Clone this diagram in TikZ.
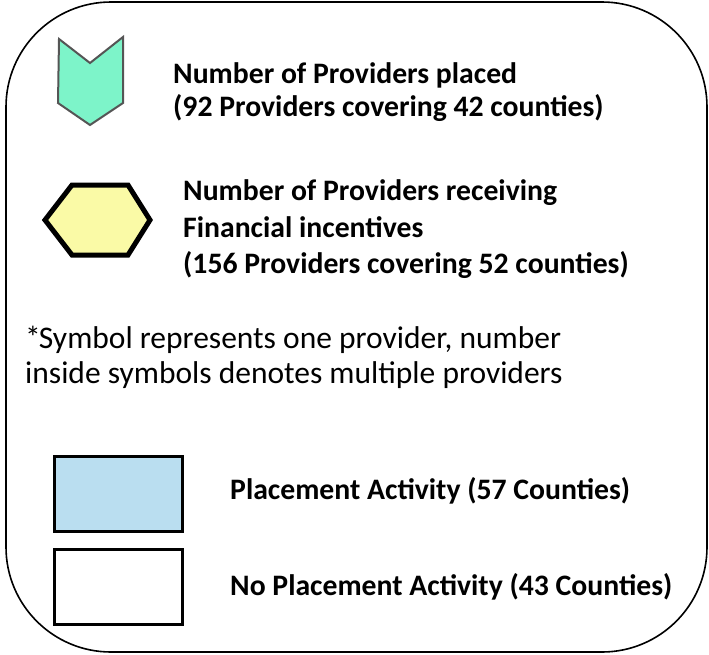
\documentclass[tikz,border=0pt]{standalone}
\usepackage{fontspec}
\setmainfont{Carlito}
\definecolor{chev}{HTML}{7DF4C9}
\definecolor{hexf}{HTML}{FAFAA6}
\definecolor{bluef}{HTML}{BADEF0}
\definecolor{chevline}{HTML}{555555}
\begin{document}
\begin{tikzpicture}[x=1pt,y=-1pt,
  lbl/.style={anchor=base west,inner sep=0pt,font=\fontsize{29.7}{33}\selectfont\bfseries},
  note/.style={anchor=base west,inner sep=0pt,font=\fontsize{31.5}{35}\selectfont},
  keybox/.style={draw=black,line width=2.5pt,minimum width=128pt,minimum height=75pt,inner sep=0pt,anchor=north west}]
\useasboundingbox (0,0) rectangle (709,654);
\draw[line width=1.6pt,rounded corners=105pt] (6,2) rectangle (707,652);
% chevron
\draw[chevline,fill=chev,line width=2pt,line join=miter] (59,39) -- (90,63) -- (123,37) -- (123,103) -- (90,125) -- (58,103) -- cycle;
% hexagon
\draw[black,fill=hexf,line width=5pt,line join=miter] (45,220) -- (72,185) -- (128,185) -- (150,220) -- (128,255) -- (72,255) -- cycle;
% boxes
\node[keybox,fill=bluef] (b1) at (53,455) {};
\node[keybox,fill=white] (b2) at (53,548) {};
% texts
\node[lbl] (t1a) at (173,83) {Number of Providers placed};
\node[lbl] (t1b) at (173,116) {(92 Providers covering 42 counties)};
\node[lbl] (t2a) at (183,200) {Number of Providers receiving};
\node[lbl] (t2b) at (183,237) {Financial incentives};
\node[lbl] (t2c) at (183,273) {(156 Providers covering 52 counties)};
\node[note] (t3a) at (25,348) {*\kern-2ptSymbol represents one provider, number};
\node[note] (t3b) at (25,383) {inside symbols denotes multiple providers};
\node[lbl] (t4) at (230,499) {Placement Activity (57 Counties)};
\node[lbl] (t5) at (230,595) {No Placement Activity (43 Counties)};
\end{tikzpicture}
\end{document}
